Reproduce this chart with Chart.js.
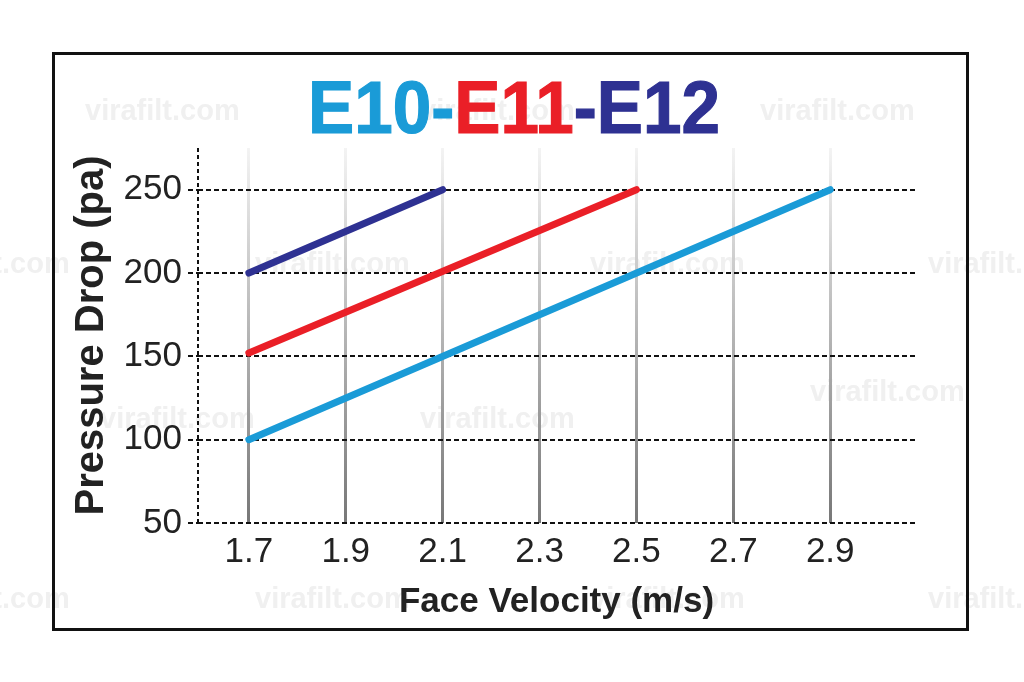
<!DOCTYPE html>
<html>
<head>
<meta charset="utf-8">
<title>E10-E11-E12 Pressure Drop</title>
<script src="https://cdn.jsdelivr.net/npm/chart.js@4.4.1/dist/chart.umd.min.js"></script>
<style>
  html, body { margin: 0; padding: 0; background: #fff; }
  #wrap { width: 1024px; height: 682px; }
</style>
</head>
<body>
<div id="wrap"><canvas id="myChart" width="1024" height="682"></canvas></div>
<script>
'use strict';

// ***** DATA *****
const velocityTicks = [1.7, 1.9, 2.1, 2.3, 2.5, 2.7, 2.9];
const pressureTicks = [50, 100, 150, 200, 250];

const e10Velocity = [1.7, 2.9];
const e10Pressure = [100, 250];
const e11Velocity = [1.7, 2.5];
const e11Pressure = [152, 250];
const e12Velocity = [1.7, 2.1];
const e12Pressure = [200, 250];

const titleParts = [
  { text: 'E10-', color: '#1a9bd7' },
  { text: 'E11', color: '#ea1f27' },
  { text: '-E12', color: '#2e3192' }
];
const watermarkText = 'virafilt.com';

function toPoints(xs, ys) {
  let pts = [];
  for (let i = 0; i < xs.length; i++) {
    pts.push({ x: xs[i], y: ys[i] });
  }
  return pts;
}

// gray vertical grid lines, lighter at the top
function gridGradient(context) {
  let chart = context.chart;
  let area = chart.chartArea;
  if (!area) {
    return '#999';
  }
  let g = chart.ctx.createLinearGradient(0, area.top - 8, 0, area.bottom);
  g.addColorStop(0, 'rgba(210,210,210,0.2)');
  g.addColorStop(0.3, '#cfcfcf');
  g.addColorStop(1, '#777');
  return g;
}

// ***** PLUGINS *****
const backdropPlugin = {
  id: 'backdrop',
  beforeDraw(chart) {
    let c = chart.ctx;
    c.save();
    c.fillStyle = '#fff';
    c.fillRect(0, 0, chart.width, chart.height);

    // faint watermarks
    c.font = 'bold 29px "Liberation Sans", Arial, sans-serif';
    c.fillStyle = '#f0f0f0';
    c.textBaseline = 'middle';
    const marks = [[85, 112], [420, 112], [760, 112],
      [-85, 265], [255, 265], [590, 265], [928, 265],
      [100, 420], [420, 420], [810, 393],
      [-85, 600], [255, 600], [590, 600], [928, 600]];
    marks.forEach(m => c.fillText(watermarkText, m[0], m[1]));

    // frame
    c.strokeStyle = '#111';
    c.lineWidth = 3;
    c.strokeRect(53.5, 53.5, 914, 576);
    c.restore();
  },
  afterDatasetsDraw(chart) {
    // dashed left axis line
    let c = chart.ctx;
    let area = chart.chartArea;
    c.save();
    c.strokeStyle = '#111';
    c.lineWidth = 2;
    c.setLineDash([4, 3]);
    c.beginPath();
    c.moveTo(area.left, area.top);
    c.lineTo(area.left, area.bottom);
    c.stroke();
    c.restore();
  }
};

const titlePlugin = {
  id: 'multiTitle',
  afterDraw(chart) {
    let c = chart.ctx;
    c.save();
    c.font = 'bold 74px "Liberation Sans", Arial, sans-serif';
    c.textBaseline = 'alphabetic';
    let total = 0;
    titleParts.forEach(p => total += c.measureText(p.text).width);
    let sx = 412 / total;
    c.translate(514 - 206, 133);
    c.scale(sx, 1);
    let x = 0;
    titleParts.forEach(p => {
      c.fillStyle = p.color;
      c.strokeStyle = p.color;
      c.lineWidth = 1.2;
      c.fillText(p.text, x, 0);
      c.strokeText(p.text, x, 0);
      x += c.measureText(p.text).width;
    });
    c.restore();
  }
};

// ***** CHART *****
const ctx = document.getElementById('myChart').getContext('2d');

const myChart = new Chart(ctx, {
  type: 'line',
  data: {
    datasets: [
      {
        label: 'E10',
        data: toPoints(e10Velocity, e10Pressure),
        borderColor: '#1a9bd7',
        borderWidth: 7,
        borderCapStyle: 'round',
        pointRadius: 0
      },
      {
        label: 'E11',
        data: toPoints(e11Velocity, e11Pressure),
        borderColor: '#ea1f27',
        borderWidth: 7,
        borderCapStyle: 'round',
        pointRadius: 0
      },
      {
        label: 'E12',
        data: toPoints(e12Velocity, e12Pressure),
        borderColor: '#2e3192',
        borderWidth: 7,
        borderCapStyle: 'round',
        pointRadius: 0
      }
    ]
  },
  options: {
    responsive: false,
    animation: false,
    devicePixelRatio: 1,
    layout: {
      padding: { left: 68, top: 148, right: 109, bottom: 59 }
    },
    plugins: {
      legend: { display: false },
      tooltip: { enabled: false },
      title: { display: false }
    },
    scales: {
      x: {
        type: 'linear',
        min: 1.595,
        max: 3.075,
        afterBuildTicks(scale) {
          scale.ticks = velocityTicks.map(v => ({ value: v }));
        },
        afterFit(scale) {
          scale.height = 100;
        },
        border: { display: false },
        grid: {
          color: gridGradient,
          lineWidth: 3,
          drawTicks: false
        },
        ticks: {
          color: '#222',
          padding: 8,
          maxRotation: 0,
          autoSkip: false,
          font: { family: '"Liberation Sans", Arial, sans-serif', size: 35 },
          callback: v => v.toFixed(1)
        },
        title: {
          display: true,
          text: 'Face Velocity (m/s)',
          color: '#222',
          padding: 0,
          font: { family: '"Liberation Sans", Arial, sans-serif', size: 35, weight: 'bold' }
        }
      },
      y: {
        type: 'linear',
        min: 50,
        max: 275,
        afterBuildTicks(scale) {
          scale.ticks = pressureTicks.map(v => ({ value: v }));
        },
        afterFit(scale) {
          scale.width = 130;
        },
        border: { display: false, dash: [5, 3] },
        grid: {
          color: '#111',
          lineWidth: 2,
          tickLength: 10,
          tickColor: '#111',
          tickWidth: 2,
          tickBorderDash: [5, 3]
        },
        ticks: {
          color: '#222',
          padding: 6,
          font: { family: '"Liberation Sans", Arial, sans-serif', size: 35 }
        },
        title: {
          display: true,
          text: 'Pressure Drop (pa)',
          color: '#222',
          padding: 0,
          font: { family: '"Liberation Sans", Arial, sans-serif', size: 40, weight: 'bold' }
        }
      }
    }
  },
  plugins: [backdropPlugin, titlePlugin]
});
</script>
</body>
</html>
